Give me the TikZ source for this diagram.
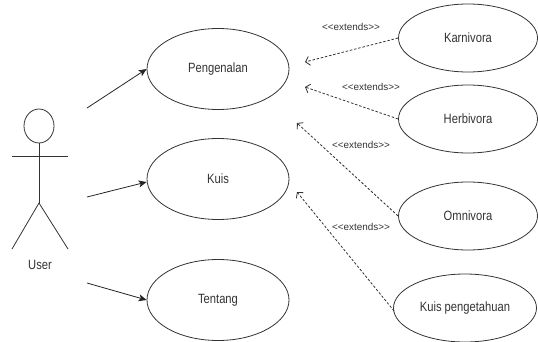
\documentclass[tikz,border=0pt]{standalone}
\usepackage{fontspec}
\setmainfont{Liberation Sans}
\usetikzlibrary{shapes.geometric,arrows.meta}
\definecolor{ink}{HTML}{333333}
\newcommand{\tallt}[1]{\scalebox{1}[1.2]{#1}}
\newcommand{\extxt}{{<}{<}extends{>}{>}}
\tikzset{
  usecase/.style={draw=ink, line width=0.8pt, ellipse, inner sep=0pt,
    minimum width=142pt, minimum height=81pt, text=ink,
    font=\fontsize{11.2}{13}\selectfont},
  smallcase/.style={usecase, minimum width=139pt, minimum height=68pt},
  assoc/.style={draw=black!85, line width=0.8pt, -{Stealth[length=8pt,width=7pt,inset=2pt]}},
  extline/.style={draw=ink, line width=0.8pt, dash pattern=on 2.5pt off 1.8pt,
    -{Straight Barb[length=4pt,width=9pt]}},
  extlabel/.style={text=ink, inner sep=0pt, font=\fontsize{9.9}{12}\selectfont},
  actorline/.style={draw=ink, line width=0.8pt},
}
\begin{document}
\begin{tikzpicture}[x=1pt,y=-1pt]
\useasboundingbox (0,0) rectangle (538,342);
% use cases
\node[usecase] (P) at (218,69) {\tallt{Pengenalan}};
\node[usecase] (K) at (218,179) {\tallt{Kuis}};
\node[usecase] (T) at (218,300) {\tallt{Tentang}};
\node[smallcase] (Ka) at (468,38) {\tallt{Karnivora}};
\node[smallcase] (He) at (468,119) {\tallt{Herbivora}};
\node[smallcase] (Om) at (468,216) {\tallt{Omnivora}};
\node[smallcase, minimum width=143pt] (KP) at (465,308) {\tallt{Kuis pengetahuan}};
% actor
\draw[actorline] (39,126) ellipse (15 and 17);
\draw[actorline] (12,156) -- (68,156);
\draw[actorline] (39,143) -- (39,203);
\draw[actorline] (12,249) -- (39,203) -- (68,249);
\node[text=ink, inner sep=0pt, font=\fontsize{11.2}{13}\selectfont] (U) at (40,265) {\tallt{User}};
% association start points
\coordinate (a1) at (87,108);
\coordinate (a2) at (87,197);
\coordinate (a3) at (87,283);
\draw[assoc] (a1) -- (P.west);
\draw[assoc] (a2) -- ([yshift=-3pt]K.west);
\draw[assoc] (a3) -- (T.west);
% extends end points
\coordinate (e1) at (305,62);
\coordinate (e2) at (305,87);
\coordinate (e3) at (297,123);
\coordinate (e4) at (297,192);
\draw[extline] (Ka.west) -- (e1);
\draw[extline] (He.west) -- (e2);
\draw[extline] (Om.west) -- (e3);
\draw[extline] ([xshift=1pt,yshift=-3pt]KP.west) -- (e4);
\node[extlabel] (l1) at (351,27) {\extxt};
\node[extlabel] (l2) at (371,87) {\extxt};
\node[extlabel] (l3) at (361,145) {\extxt};
\node[extlabel] (l4) at (361,227) {\extxt};
\end{tikzpicture}
\end{document}
